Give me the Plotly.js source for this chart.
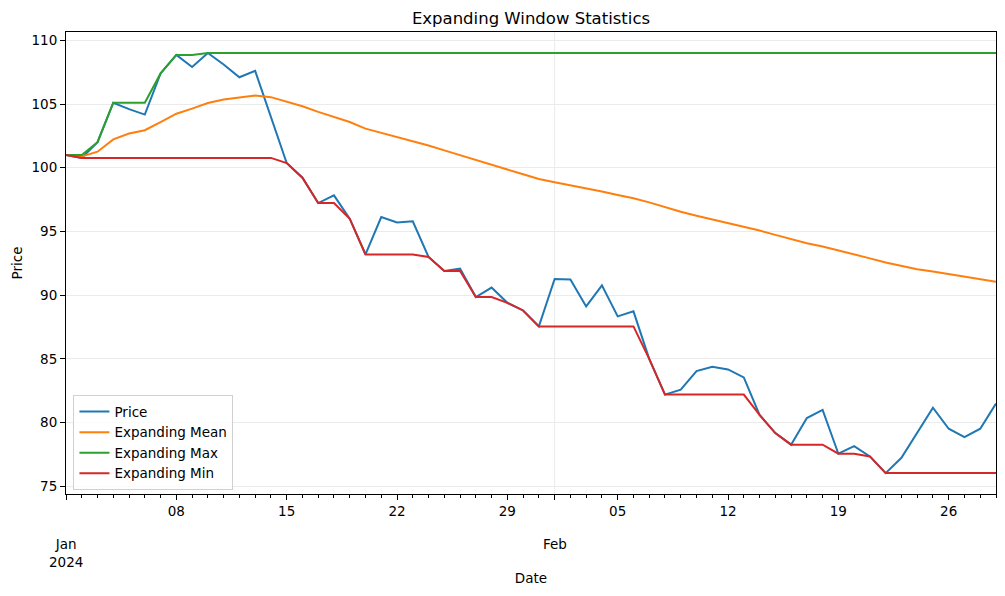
<!DOCTYPE html>
<html>
<head>
<meta charset="utf-8">
<script src="https://cdn.plot.ly/plotly-3.0.1.min.js"></script>
<style>html,body{margin:0;padding:0;background:#fff;}#chart{width:1005px;height:596px;}</style>
</head>
<body>
<div id="chart"></div>
<script>
// Daily dates, 2024-01-01 .. 2024-02-29
const startDate = '2024-01-01';
const nDays = 60;

const price = [101.0, 100.77, 102.0, 105.1, 104.6, 104.17, 107.4, 108.85, 107.9, 109.0,
  108.1, 107.1, 107.6, 104.0, 100.37, 99.22, 97.23, 97.83, 96.0, 93.2,
  96.13, 95.7, 95.8, 93.0, 91.9, 92.08, 89.85, 90.6, 89.4, 88.8,
  87.55, 91.27, 91.24, 89.12, 90.77, 88.34, 88.73, 85.0, 82.2, 82.58,
  84.04, 84.38, 84.17, 83.55, 80.6, 79.18, 78.27, 80.36, 81.0, 77.56,
  78.15, 77.35, 76.04, 77.24, 79.26, 81.17, 79.52, 78.86, 79.52, 81.5];

const expMean = [101.0, 100.89, 101.26, 102.22, 102.69, 102.94, 103.58, 104.24, 104.64, 105.08,
  105.35, 105.5, 105.66, 105.54, 105.2, 104.82, 104.38, 104.01, 103.59, 103.07,
  102.74, 102.42, 102.13, 101.75, 101.36, 101.0, 100.59, 100.23, 99.86, 99.49,
  99.11, 98.86, 98.63, 98.35, 98.13, 97.86, 97.61, 97.28, 96.9, 96.54,
  96.23, 95.95, 95.68, 95.4, 95.07, 94.73, 94.38, 94.08, 93.82, 93.49,
  93.19, 92.89, 92.57, 92.29, 92.04, 91.85, 91.64, 91.42, 91.22, 91.05];

const expMax = [101.0, 101.0, 102.0, 105.1, 105.1, 105.1, 107.4, 108.85, 108.85, 109.0,
  109.0, 109.0, 109.0, 109.0, 109.0, 109.0, 109.0, 109.0, 109.0, 109.0,
  109.0, 109.0, 109.0, 109.0, 109.0, 109.0, 109.0, 109.0, 109.0, 109.0,
  109.0, 109.0, 109.0, 109.0, 109.0, 109.0, 109.0, 109.0, 109.0, 109.0,
  109.0, 109.0, 109.0, 109.0, 109.0, 109.0, 109.0, 109.0, 109.0, 109.0,
  109.0, 109.0, 109.0, 109.0, 109.0, 109.0, 109.0, 109.0, 109.0, 109.0];

const expMin = [101.0, 100.77, 100.77, 100.77, 100.77, 100.77, 100.77, 100.77, 100.77, 100.77,
  100.77, 100.77, 100.77, 100.77, 100.37, 99.22, 97.23, 97.23, 96.0, 93.2,
  93.2, 93.2, 93.2, 93.0, 91.9, 91.9, 89.85, 89.85, 89.4, 88.8,
  87.55, 87.55, 87.55, 87.55, 87.55, 87.55, 87.55, 85.0, 82.2, 82.2,
  82.2, 82.2, 82.2, 82.2, 80.6, 79.18, 78.27, 78.27, 78.27, 77.56,
  77.56, 77.35, 76.04, 76.04, 76.04, 76.04, 76.04, 76.04, 76.04, 76.04];

const seriesNames = ['Price', 'Expanding Mean', 'Expanding Max', 'Expanding Min'];
const seriesColors = ['#1f77b4', '#ff7f0e', '#2ca02c', '#d62728'];

const weekTickVals = ['2024-01-08', '2024-01-15', '2024-01-22', '2024-01-29',
  '2024-02-05', '2024-02-12', '2024-02-19', '2024-02-26'];
const weekTickText = ['08', '15', '22', '29', '05', '12', '19', '26'];
const monthTickVals = ['2024-01-01', '2024-02-01'];
const monthTickText = ['Jan<br>2024', 'Feb'];
const yTickVals = [75, 80, 85, 90, 95, 100, 105, 110];

function dateList(start, n) {
  const out = [];
  const d0 = new Date(start + 'T00:00:00Z');
  for (let i = 0; i < n; i++) {
    const d = new Date(d0.getTime() + i * 86400000);
    out.push(d.toISOString().slice(0, 10));
  }
  return out;
}
const dates = dateList(startDate, nDays);

const FONT = 'DejaVu Sans, sans-serif';
const allSeries = [price, expMean, expMax, expMin];
const traces = allSeries.map((ys, i) => ({
  x: dates, y: ys, type: 'scatter', mode: 'lines',
  name: seriesNames[i], legendgroup: 'g' + i,
  line: {color: seriesColors[i], width: 2}
}));

const annotations = monthTickVals.map((v, i) => ({
  x: v, xref: 'x', y: 0, yref: 'paper', yanchor: 'top', xanchor: 'center', align: 'center',
  yshift: -40, text: monthTickText[i], showarrow: false,
  font: {family: FONT, size: 13.5, color: '#000'}
}));

const shapes = [{
  type: 'line', xref: 'x', yref: 'paper', x0: '2024-02-01', x1: '2024-02-01', y0: 0, y1: 1,
  line: {color: '#ebebeb', width: 1}, layer: 'below'
}];

const layout = {
  width: 1005, height: 596,
  margin: {l: 66, r: 9, t: 32, b: 102},
  paper_bgcolor: '#fff', plot_bgcolor: '#fff',
  font: {family: FONT, size: 13.5, color: '#000'},
  title: {text: 'Expanding Window Statistics', x: 0.5, xref: 'paper', xanchor: 'center',
    y: 1 - 18 / 596, yref: 'container', yanchor: 'middle',
    font: {family: FONT, size: 16.5, color: '#000'}},
  xaxis: {
    type: 'date', range: ['2024-01-01', '2024-02-29'],
    tickmode: 'array',
    tickvals: monthTickVals.concat(weekTickVals),
    ticktext: ['', ''].concat(weekTickText),
    ticks: 'outside', ticklen: 5, tickwidth: 1, tickcolor: '#000',
    minor: {dtick: 86400000, tick0: '2024-01-01', ticklen: 3, tickwidth: 1, tickcolor: '#000', ticks: 'outside', showgrid: false},
    showgrid: false, zeroline: false,
    showline: true, mirror: true, linecolor: '#000', linewidth: 1,
    tickfont: {family: FONT, size: 13.5, color: '#000'},
    title: {text: 'Date', font: {family: FONT, size: 13.5, color: '#000'}, standoff: 55}
  },
  yaxis: {
    range: [74.4, 110.65],
    tickmode: 'array', tickvals: yTickVals,
    ticks: 'outside', ticklen: 5, tickwidth: 1, tickcolor: '#000',
    showgrid: true, gridcolor: '#ebebeb', gridwidth: 1, zeroline: false,
    showline: true, mirror: true, linecolor: '#000', linewidth: 1,
    tickfont: {family: FONT, size: 13.5, color: '#000'},
    title: {text: 'Price', font: {family: FONT, size: 13.5, color: '#000'}, standoff: 5}
  },
  showlegend: true,
  legend: {
    x: 0.008, y: 0.008, xanchor: 'left', yanchor: 'bottom',
    bgcolor: 'rgba(255,255,255,0.8)', bordercolor: '#d0d0d0', borderwidth: 1,
    font: {family: FONT, size: 13.5, color: '#000'},
    tracegroupgap: 4.5, traceorder: 'normal'
  },
  annotations: annotations,
  shapes: shapes
};

Plotly.newPlot('chart', traces, layout, {staticPlot: true, displayModeBar: false});
</script>
</body>
</html>
